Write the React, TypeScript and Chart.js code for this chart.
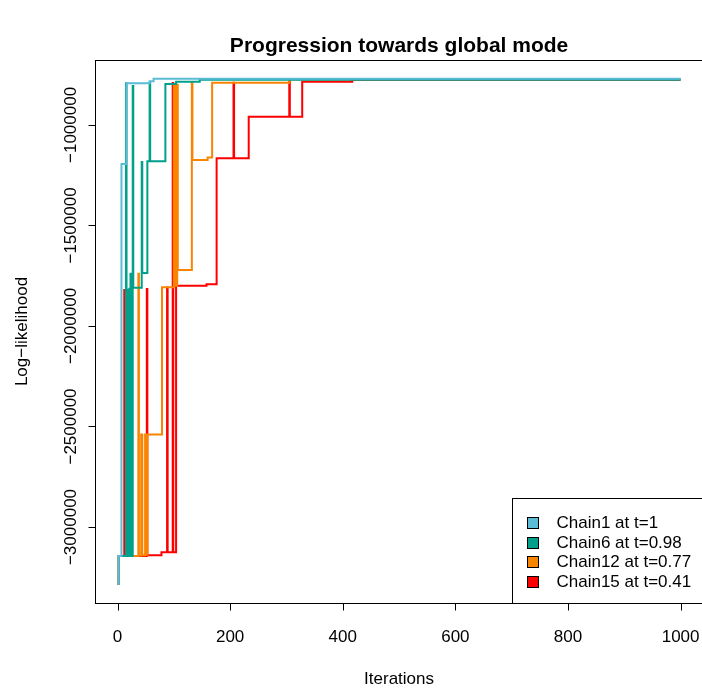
import React, { useEffect, useRef } from "react";
import { Chart, registerables } from "chart.js";

Chart.register(...registerables);

// Step-change points for each chain: iteration at which the log-likelihood takes a new value
const chain1Iter = [0, 2, 7, 16, 57, 64, 1000];
const chain1LogLik = [-3284000, -3144000, -1194000, -793000, -783000, -770000, -770000];

const chain6Iter = [
  0, 2, 15, 16, 17, 18, 19, 20, 21, 22, 23, 24, 25, 26, 27, 28, 43, 44, 53, 57, 58, 85, 104, 146, 1000,
];
const chain6LogLik = [
  -3284000, -3144000, -793000, -3144000, -1820000, -3144000, -1820000, -3144000, -1815000, -3144000,
  -1740000, -3144000, -1740000, -3144000, -806000, -1810000, -1184000, -1736000, -1181000, -790000,
  -1181000, -797000, -785000, -775000, -775000,
];

const chain12Iter = [
  0, 2, 37, 38, 42, 44, 49, 50, 53, 79, 100, 101, 102, 103, 104, 105, 106, 107, 132, 133, 160, 168, 305,
  1000,
];
const chain12LogLik = [
  -3284000, -3144000, -1740000, -3142000, -2540000, -3140000, -2540000, -3138000, -2540000, -1808000,
  -800000, -1800000, -800000, -1800000, -800000, -1800000, -800000, -1721000, -790000, -1174000,
  -1162000, -790000, -773000, -773000,
];

const chain15Iter = [
  0, 2, 12, 13, 52, 53, 78, 88, 89, 98, 99, 104, 158, 176, 206, 207, 233, 305, 306, 328, 417, 1000,
];
const chain15LogLik = [
  -3284000, -3144000, -1821000, -3144000, -1816000, -3140000, -3126000, -1809000, -3126000, -791000,
  -3126000, -1800000, -1793000, -1166000, -790000, -1166000, -959000, -785000, -959000, -785000,
  -775000, -775000,
];

const seriesNames = ["Chain1 at t=1", "Chain6 at t=0.98", "Chain12 at t=0.77", "Chain15 at t=0.41"];
const seriesColors = ["#5BBCD6", "#00A08A", "#F98400", "#FF0000"];

const xTicks = [0, 200, 400, 600, 800, 1000];
const yTicks = [-3000000, -2500000, -2000000, -1500000, -1000000];
const yTickLabels = ["\u22123000000", "\u22122500000", "\u22122000000", "\u22121500000", "\u22121000000"];

const titleText = "Progression towards global mode";
const xTitle = "Iterations";
const yTitle = "Log\u2212likelihood";

const FONT = "'Liberation Sans', Arial, Helvetica, sans-serif";

const toPoints = (xs: number[], ys: number[]) => xs.map((x, i) => ({ x, y: ys[i] }));

// Base-graphics style frame, axes, titles and legend
const framePlugin = {
  id: "frame",
  afterDatasetsDraw(chart: any) {
    const { ctx, chartArea, scales } = chart;
    const xs = scales.x;
    const ys = scales.y;
    const left = Math.round(chartArea.left) + 0.5;
    const top = Math.round(chartArea.top) + 0.5;
    const bottom = Math.round(chartArea.bottom) + 0.5;
    const right = xs.getPixelForValue(1040);
    const midX = (chartArea.left + right) / 2;

    ctx.save();
    ctx.strokeStyle = "#000";
    ctx.lineWidth = 1;
    ctx.strokeRect(left, top, right - left, bottom - top);

    // x axis
    ctx.beginPath();
    ctx.moveTo(xs.getPixelForValue(xTicks[0]), bottom);
    ctx.lineTo(xs.getPixelForValue(xTicks[xTicks.length - 1]), bottom);
    xTicks.forEach((t) => {
      const px = Math.round(xs.getPixelForValue(t)) + 0.5;
      ctx.moveTo(px, bottom);
      ctx.lineTo(px, bottom + 7);
    });
    ctx.stroke();

    ctx.fillStyle = "#000";
    ctx.font = `17px ${FONT}`;
    ctx.textAlign = "center";
    ctx.textBaseline = "middle";
    xTicks.forEach((t) => {
      ctx.fillText(String(t), xs.getPixelForValue(t), 637);
    });

    // y axis
    ctx.beginPath();
    ctx.moveTo(left, ys.getPixelForValue(yTicks[0]));
    ctx.lineTo(left, ys.getPixelForValue(yTicks[yTicks.length - 1]));
    yTicks.forEach((t) => {
      const py = Math.round(ys.getPixelForValue(t)) + 0.5;
      ctx.moveTo(left, py);
      ctx.lineTo(left - 7, py);
    });
    ctx.stroke();

    yTicks.forEach((t, i) => {
      ctx.save();
      ctx.translate(71, ys.getPixelForValue(t));
      ctx.rotate(-Math.PI / 2);
      ctx.fillText(yTickLabels[i], 0, 0);
      ctx.restore();
    });

    // titles
    ctx.font = `bold 21px ${FONT}`;
    ctx.fillText(titleText, midX, 46);
    ctx.font = `17px ${FONT}`;
    ctx.fillText(xTitle, midX, 679);
    ctx.save();
    ctx.translate(22, (chartArea.top + chartArea.bottom) / 2);
    ctx.rotate(-Math.PI / 2);
    ctx.fillText(yTitle, 0, 0);
    ctx.restore();

    // legend
    const lx = 512.5;
    const ly = 498.5;
    ctx.fillStyle = "#fff";
    ctx.fillRect(lx, ly, 720 - lx, bottom - ly);
    ctx.strokeRect(lx, ly, 720 - lx, bottom - ly);
    ctx.textAlign = "left";
    seriesNames.forEach((name, i) => {
      const cy = 522.5 + i * 19.5;
      ctx.fillStyle = seriesColors[i];
      ctx.fillRect(527.5, Math.round(cy - 5.5) + 0.5, 11, 11);
      ctx.strokeRect(527.5, Math.round(cy - 5.5) + 0.5, 11, 11);
      ctx.fillStyle = "#000";
      ctx.fillText(name, 556.5, cy + 1);
    });
    ctx.restore();
  },
};

export default function App() {
  const canvasRef = useRef<HTMLCanvasElement | null>(null);

  useEffect(() => {
    const canvas = canvasRef.current;
    if (!canvas) return;
    const series = [
      toPoints(chain1Iter, chain1LogLik),
      toPoints(chain6Iter, chain6LogLik),
      toPoints(chain12Iter, chain12LogLik),
      toPoints(chain15Iter, chain15LogLik),
    ];
    const chart = new Chart(canvas, {
      type: "line",
      data: {
        datasets: series.map((data, i) => ({
          label: seriesNames[i],
          data,
          borderColor: seriesColors[i],
          backgroundColor: seriesColors[i],
          borderWidth: 2,
          pointRadius: 0,
          stepped: true,
          fill: false,
          // later chains sit underneath the earlier ones
          order: i,
        })),
      },
      options: {
        responsive: false,
        animation: false,
        devicePixelRatio: 1,
        layout: { padding: { left: 95, top: 60, right: 0, bottom: 88 } },
        scales: {
          x: { type: "linear", min: -40, max: 1038, display: false },
          y: { type: "linear", min: -3378000, max: -677000, display: false },
        },
        plugins: {
          legend: { display: false },
          title: { display: false },
          tooltip: { enabled: false },
        },
      },
      plugins: [framePlugin],
    });
    return () => chart.destroy();
  }, []);

  return (
    <div style={{ position: "absolute", left: 0, top: 0, width: 702, height: 691, background: "#fff" }}>
      <canvas ref={canvasRef} width={702} height={691} />
    </div>
  );
}
